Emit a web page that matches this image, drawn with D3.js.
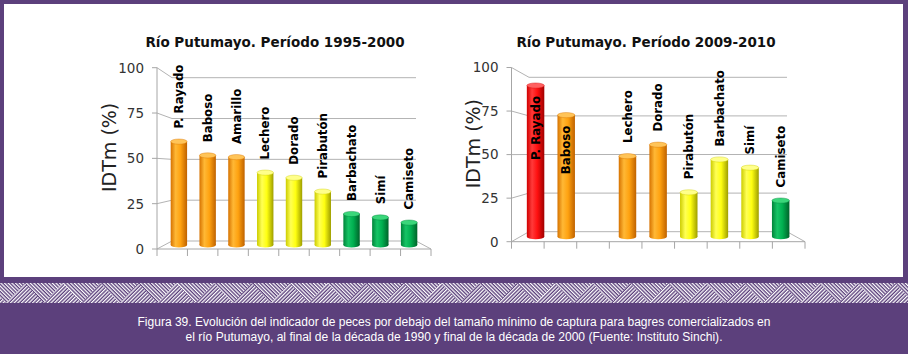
<!DOCTYPE html>
<html lang="es">
<head>
<meta charset="UTF-8">
<title>IDTm Putumayo</title>
<script src="https://cdn.jsdelivr.net/npm/d3@7"></script>
<style>
  body { margin: 0; background: #5c407c; }
  svg { display: block; }
</style>
</head>
<body>
<script>
// species (same order in both periods, Amarillo has no bar in 2009-2010)
const species = ["P. Rayado", "Baboso", "Amarillo", "Lechero", "Dorado", "Pirabutón", "Barbachato", "Simí", "Camiseto"];
const idtm1995 = [60, 52, 51, 42, 39, 31, 18, 16, 13];
const level1995 = ["orange", "orange", "orange", "yellow", "yellow", "yellow", "green", "green", "green"];
const idtm2009 = [92, 74, null, 49, 56, 27, 47, 42, 22];
const level2009 = ["red", "orange", null, "orange", "orange", "yellow", "yellow", "yellow", "green"];
const yTicks = [0, 25, 50, 75, 100];
const titles = ["Río Putumayo. Período 1995-2000", "Río Putumayo. Período 2009-2010"];
const yLabel = "IDTm (%)";
const caption = [
  "Figura 39. Evolución del indicador de peces por debajo del tamaño mínimo de captura para bagres comercializados en",
  "el río Putumayo, al final de la década de 1990 y final de la década de 2000 (Fuente: Instituto Sinchi)."
];

const width = 908, height = 354;
const purple = "#5c407c";
const font = "DejaVu Sans, Verdana, sans-serif";

// cylinder shading per level
const shades = {
  orange: {stops: ["#d67200", "#ffb835", "#ffa210", "#bf6200"], top: "#ffc458"},
  yellow: {stops: ["#cccc00", "#ffff55", "#ffff10", "#9e9e00"], top: "#ffff8a"},
  green:  {stops: ["#00843a", "#16c466", "#00b050", "#00632a"], top: "#3ad67a"},
  red:    {stops: ["#d00000", "#ff3a3a", "#ff1010", "#a00000"], top: "#ff6060"}
};

const svg = d3.select("body").append("svg")
    .attr("width", width)
    .attr("height", height);

const defs = svg.append("defs");
Object.entries(shades).forEach(([k, s]) => {
  const g = defs.append("linearGradient").attr("id", "cyl-" + k)
      .attr("x1", 0).attr("x2", 1).attr("y1", 0).attr("y2", 0);
  [0, 0.3, 0.6, 1].forEach((o, i) => g.append("stop").attr("offset", o).attr("stop-color", s.stops[i]));
});

// hatch stripes for the decorative band
[["hatchA", 45], ["hatchB", -45]].forEach(([id, a]) => {
  const p = defs.append("pattern").attr("id", id)
      .attr("patternUnits", "userSpaceOnUse")
      .attr("width", 2.6).attr("height", 2.6)
      .attr("patternTransform", `rotate(${a})`);
  p.append("rect").attr("width", 2.6).attr("height", 2.6).attr("fill", purple);
  p.append("rect").attr("width", 1.25).attr("height", 2.6).attr("fill", "#ffffff");
});

// white panel
svg.append("rect").attr("x", 4).attr("y", 4).attr("width", 899).attr("height", 273).attr("fill", "#fff");

// zigzag band
const bandY = 283, bandH = 20, period = 908 / 24;
svg.append("rect").attr("x", 0).attr("y", bandY).attr("width", width).attr("height", bandH).attr("fill", "url(#hatchB)");
svg.append("g").selectAll("polygon")
  .data(d3.range(-1, 25))
  .join("polygon")
    .attr("points", i => {
      const x = 6 + i * period;
      return `${x},${bandY + bandH} ${x + period / 2},${bandY} ${x + period},${bandY + bandH}`;
    })
    .attr("fill", "url(#hatchA)");

// caption
const capWidths = [633, 537];
svg.append("g").selectAll("text")
  .data(caption)
  .join("text")
    .attr("x", 454)
    .attr("y", (d, i) => 326 + i * 15)
    .attr("text-anchor", "middle")
    .attr("fill", "#fff")
    .attr("font-family", "Liberation Sans Narrow, Arial Narrow, Liberation Sans, sans-serif")
    .attr("font-size", 12.5)
    .attr("textLength", (d, i) => capWidths[i])
    .attr("lengthAdjust", "spacingAndGlyphs")
    .text(d => d);

const panels = [
  {title: titles[0], values: idtm1995, levels: level1995, titleX: 275, axisTitleX: 115.5,
   front: [157, 431], back: [172, 416], yFront: [249, 67.7], yBack: [241, 77.7]},
  {title: titles[1], values: idtm2009, levels: level2009, titleX: 646, axisTitleX: 479.5,
   front: [511.5, 805], back: [529, 787], yFront: [241.7, 67.5], yBack: [231.7, 77.3]}
];

panels.forEach(p => drawChart(p));

function drawChart(p) {
  const g = svg.append("g");
  const mid = (a, b) => [(a[0] + b[0]) / 2, (a[1] + b[1]) / 2];

  const xFront = d3.scaleBand().domain(species).range(p.front);
  const xBack = d3.scaleBand().domain(species).range(p.back);
  const xMid = d3.scaleBand().domain(species).range(mid(p.front, p.back));
  const yFront = d3.scaleLinear().domain([0, 100]).range(p.yFront);
  const yBack = d3.scaleLinear().domain([0, 100]).range(p.yBack);
  const yMid = d3.scaleLinear().domain([0, 100]).range(mid(p.yFront, p.yBack));

  const [xf0, xf1] = xFront.range();
  const [xb0, xb1] = xBack.range();

  // title
  g.append("text")
      .attr("x", p.titleX).attr("y", 47)
      .attr("text-anchor", "middle")
      .attr("font-family", font).attr("font-weight", "bold").attr("font-size", 13.5)
      .attr("fill", "#111")
      .text(p.title);

  // walls / gridlines
  g.append("g").selectAll("path")
    .data(yTicks)
    .join("path")
      .attr("d", t => {
        let d = `M${xf0},${yFront(t)}L${xb0},${yBack(t)}L${xb1},${yBack(t)}`;
        if (t === 0) d += `L${xf1},${yFront(0)}`;
        return d;
      })
      .attr("fill", "none")
      .attr("stroke", "#b3b3b3")
      .attr("stroke-width", 1);

  // front axes
  g.append("path")
      .attr("d", `M${xf0},${yFront(100)}V${yFront(0)}H${xf1}`)
      .attr("fill", "none").attr("stroke", "#a6a6a6");
  g.append("g").selectAll("line")
    .data(yTicks)
    .join("line")
      .attr("x1", xf0 - 5).attr("x2", xf0)
      .attr("y1", t => yFront(t)).attr("y2", t => yFront(t))
      .attr("stroke", "#a6a6a6");
  g.append("g").selectAll("line")
    .data(species.map(s => xFront(s)).concat([xf1]))
    .join("line")
      .attr("x1", d => d).attr("x2", d => d)
      .attr("y1", yFront(0)).attr("y2", yFront(0) + 7)
      .attr("stroke", "#a6a6a6");

  // tick labels
  g.append("g").selectAll("text")
    .data(yTicks)
    .join("text")
      .attr("x", xf0 - 13)
      .attr("y", t => yFront(t))
      .attr("dy", "0.36em")
      .attr("text-anchor", "end")
      .attr("font-family", font).attr("font-size", 13.5)
      .attr("fill", "#333")
      .text(t => t);

  // axis title
  g.append("text")
      .attr("transform", `translate(${p.axisTitleX},${yFront(50) - 11}) rotate(-90)`)
      .attr("text-anchor", "middle")
      .attr("font-family", font).attr("font-size", 19)
      .attr("fill", "#222")
      .text(yLabel);

  // bars as cylinders
  const bars = species.map((s, i) => ({name: s, value: p.values[i], level: p.levels[i]}))
      .filter(d => d.value != null);
  const bw = xMid.bandwidth() * 0.57;
  const ry = 2.6;

  const bar = g.append("g").selectAll("g")
    .data(bars)
    .join("g")
      .attr("transform", d => `translate(${xMid(d.name) + xMid.bandwidth() / 2},0)`);

  bar.append("ellipse")
      .attr("cx", 0).attr("cy", yMid(0))
      .attr("rx", bw / 2).attr("ry", ry)
      .attr("fill", d => `url(#cyl-${d.level})`);
  bar.append("rect")
      .attr("x", -bw / 2).attr("width", bw)
      .attr("y", d => yMid(d.value))
      .attr("height", d => yMid(0) - yMid(d.value))
      .attr("fill", d => `url(#cyl-${d.level})`);
  bar.append("ellipse")
      .attr("cx", 0).attr("cy", d => yMid(d.value))
      .attr("rx", bw / 2).attr("ry", ry)
      .attr("fill", d => shades[d.level].top)
      .attr("stroke", d => shades[d.level].stops[0])
      .attr("stroke-width", 0.4);

  // data labels: above the bar, or inside when there is no room
  bar.append("text")
      .attr("dy", "0.36em")
      .attr("font-family", font).attr("font-weight", "bold").attr("font-size", 11.8)
      .attr("fill", "#000")
      .text(d => d.name)
      .each(function (d) {
        const top = yMid(d.value) - ry;
        const len = this.getComputedTextLength();
        const inside = top - 10.5 - len < 58;
        d3.select(this)
          .attr("text-anchor", inside ? "end" : "start")
          .attr("transform", `translate(0,${inside ? top + 13 : top - 10.5}) rotate(-90)`);
      });
}
</script>
</body>
</html>
